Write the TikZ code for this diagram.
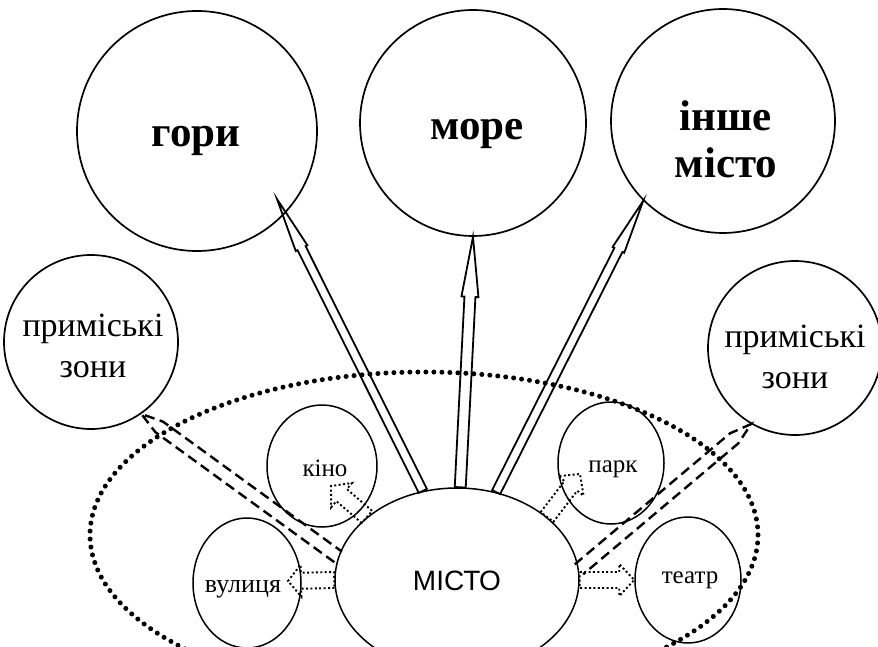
\documentclass[tikz,border=0pt]{standalone}
\usepackage{fontspec}
\setmainfont{Liberation Serif}
\newfontfamily\sansf{Liberation Sans}
\usetikzlibrary{calc,shapes.geometric}
% hollow arrow: style, base, tip, shaft half width, head half width, head length
\newcommand\hollowarrow[6]{%
  \coordinate (hP) at ($(#3)!#6!(#2)$);
  \draw[#1] ($(#2)!#4!90:(#3)$) -- ($(hP)!#4!-90:(#2)$) -- ($(hP)!#5!-90:(#2)$) -- (#3)
    -- ($(hP)!#5!90:(#2)$) -- ($(hP)!#4!90:(#2)$) -- ($(#2)!#4!-90:(#3)$) -- cycle;}
% open dashed arrow: base, tip, half separation, converge length
\newcommand\dasharrow[4]{%
  \coordinate (hQ) at ($(#2)!#4!(#1)$);
  \draw[dasharr] ($(#1)!#3!90:(#2)$) -- ($(hQ)!#3!-90:(#1)$) -- (#2)
    -- ($(hQ)!#3!90:(#1)$) -- ($(#1)!#3!-90:(#2)$);}
\begin{document}
\begin{tikzpicture}[x=1pt,y=-1pt,
  circ/.style={draw, circle, line width=1.7pt, inner sep=0pt},
  ell/.style={draw, ellipse, line width=1.5pt, inner sep=0pt},
  bigtxt/.style={font=\fontsize{43}{47}\selectfont\bfseries, align=center, inner sep=0pt},
  zontxt/.style={font=\fontsize{34}{41}\selectfont, align=center, inner sep=0pt},
  smalltxt/.style={font=\fontsize{25}{30}\selectfont, inner sep=0pt, anchor=base},
  bigarrow/.style={line width=1.8pt, line join=miter},
  dotarrow/.style={line width=1.9pt, dash pattern=on 2pt off 2.4pt},
  dasharr/.style={line width=2.4pt, dash pattern=on 10pt off 5.5pt},
  zone/.style={line width=5pt, line cap=round, dash pattern=on 0pt off 8pt}]
\useasboundingbox (0,0) rectangle (878,647);
\fill[white] (0,0) rectangle (878,647);
\clip (0,0) rectangle (878,647);

% dotted city zone
\draw[zone] (424,535) ellipse [x radius=334, y radius=163];

% circles
\node[circ, minimum size=240pt] (gory) at (197,131) {};
\node[circ, minimum size=226pt] (more) at (473,123) {};
\node[circ, minimum size=224pt] (inshe) at (723,121) {};
\node[circ, minimum size=174pt] (zon1) at (91,342) {};
\node[circ, minimum size=174pt] (zon2) at (795,348) {};
\node[ell, minimum width=110pt, minimum height=122pt] (kino) at (322,466) {};
\node[ell, minimum width=108pt, minimum height=130pt] (vul) at (247,583) {};
\node[ell, minimum width=106pt, minimum height=122pt] (park) at (611,463) {};
\node[ell, minimum width=106pt, minimum height=126pt] (teatr) at (688,580) {};
\node[ell, minimum width=244pt, minimum height=184pt] (misto) at (457,580) {};

% tips
\coordinate (tgoryTip) at (277,199);
\coordinate (tkinoTip) at (331,486);
\coordinate (tparkTip) at (580,474);
\coordinate (tvulTip) at (288,581);

% big hollow arrows
\hollowarrow{bigarrow}{misto.111}{tgoryTip}{4.5pt}{6.5pt}{55pt}
\hollowarrow{bigarrow}{misto.88}{more.south}{5.5pt}{8.5pt}{60pt}
\hollowarrow{bigarrow}{misto.66}{inshe.225}{4.5pt}{6.5pt}{55pt}

% dashed arrows to suburbs
\dasharrow{misto.169}{zon1.-55}{6.5pt}{22pt}
\dasharrow{misto.5}{zon2.240}{6.5pt}{22pt}

% dotted block arrows
\hollowarrow{dotarrow}{misto.180}{tvulTip}{8pt}{16pt}{13pt}
\hollowarrow{dotarrow}{misto.145}{tkinoTip}{8pt}{16pt}{14pt}
\hollowarrow{dotarrow}{misto.35}{tparkTip}{8pt}{16pt}{15pt}
\hollowarrow{dotarrow}{misto.0}{teatr.west}{8pt}{16pt}{15pt}

% texts
\node[bigtxt, anchor=base] (lgory) at (196,147) {гори};
\node[bigtxt, anchor=base] (lmore) at (477,140) {море};
\node[bigtxt] (linshe) at (726,139) {інше\\місто};
\node[zontxt] (lzon1) at (93,346) {приміські\\зони};
\node[zontxt] (lzon2) at (795,357) {приміські\\зони};
\node[smalltxt] (lkino) at (325,476) {кіно};
\node[smalltxt, font=\fontsize{26}{30}\selectfont] (lvul) at (243,592) {вулиця};
\node[smalltxt] (lpark) at (613,472) {парк};
\node[smalltxt] (lteatr) at (690,583) {театр};
\node[font=\sansf\fontsize{28}{30}\selectfont, inner sep=0pt, anchor=base] (lmisto) at (457,590) {МІСТО};
\end{tikzpicture}
\end{document}
